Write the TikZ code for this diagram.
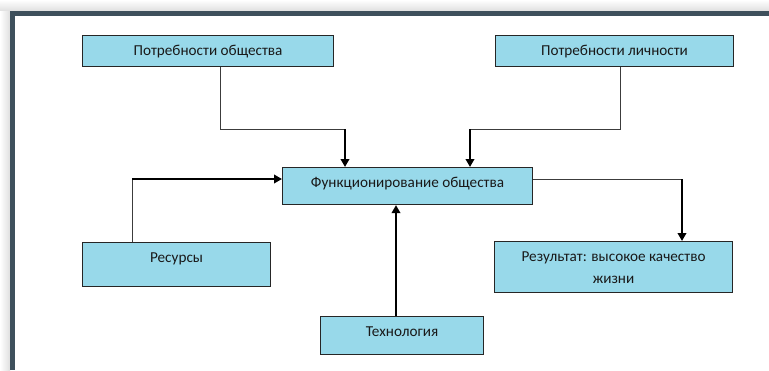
\documentclass[tikz,border=0pt]{standalone}
\usepackage{fontspec}
\setmainfont{Carlito}
\usetikzlibrary{arrows.meta}
\definecolor{boxfill}{RGB}{152,217,234}
\definecolor{framecol}{RGB}{62,80,92}
\definecolor{thincol}{RGB}{60,60,60}
\begin{document}
\begin{tikzpicture}[x=1pt,y=-1pt,
  box/.style={draw=black!85, line width=1.1pt, fill=boxfill, anchor=north west,
    inner sep=0pt, text height=19.8pt, font=\fontsize{15.2}{22}\selectfont,
    align=center, text=black!90},
  thinline/.style={draw=thincol, line width=0.9pt},
  thickline/.style={draw=black, line width=2.2pt, -{Triangle[length=8pt,width=8.5pt]}}]
\useasboundingbox (0,0) rectangle (769,370);
% page shadow and frame
\shade[top color=white, bottom color=gray!25] (0,0) rectangle (769,11);
\shade[left color=white, right color=gray!25] (0,11) rectangle (10,370);
\draw[framecol, line width=5pt] (12.5,370) -- (12.5,13.5) -- (769,13.5);
% boxes
\node[box, minimum width=251pt, minimum height=31pt, text depth=11.2pt] (po) at (82,35) {Потребности общества};
\node[box, minimum width=238pt, minimum height=31pt, text depth=11.2pt] (pl) at (495,35) {Потребности личности};
\node[box, minimum width=250pt, minimum height=37pt, text depth=17.2pt] (fo) at (282,167) {Функционирование общества};
\node[box, minimum width=188pt, minimum height=44pt, text depth=24.2pt] (res) at (82,242) {Ресурсы};
\node[box, minimum width=238pt, minimum height=51pt, text height=41.8pt, text depth=9.2pt] (rez) at (494,241) {Результат: высокое качество\\жизни};
\node[box, minimum width=163pt, minimum height=38pt, text depth=18.2pt] (tech) at (320,316) {Технология};
% bend points
\coordinate (b1) at (220,129);
\coordinate (b2) at (345,129);
\coordinate (b3) at (620,129);
\coordinate (b4) at (470,129);
\coordinate (b5) at (132,179);
\coordinate (b6) at (682,179);
\coordinate (b7) at (396,250);
% connectors
\draw[thinline] (po.south -| b1) -- (b1) -- (b2);
\draw[thickline] (b2) -- (b2 |- fo.north);
\draw[thinline] (pl.south -| b3) -- (b3) -- (b4);
\draw[thickline] (b4) -- (b4 |- fo.north);
\draw[thinline] (res.north -| b5) -- (b5);
\draw[thickline] (b5) -- (b5 -| fo.west);
\draw[thinline] (fo.east |- b6) -- (b6);
\draw[thickline] (b6) -- (b6 |- rez.north);
\draw[thickline] (tech.north -| b7) -- (fo.south -| b7);
\end{tikzpicture}
\end{document}
